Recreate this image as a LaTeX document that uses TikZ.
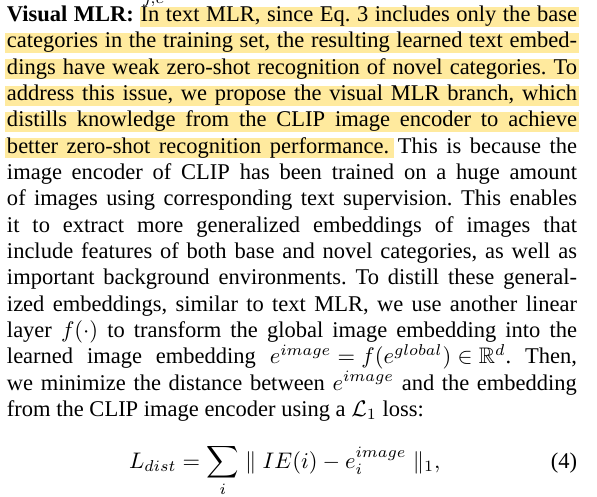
\documentclass[tikz,border=0pt]{standalone}
\usepackage{amssymb}
\usepackage{fontspec}
\setmainfont{Liberation Serif}
\definecolor{hl}{RGB}{255,234,158}
\newlength{\linew}
\setlength{\linew}{253.3pt}
\newcommand{\jline}[1]{\hbox to \linew{\frenchspacing\thickmuskip=5mu\medmuskip=4mu #1}}
\begin{document}
\begin{tikzpicture}[x=0.4444pt,y=-0.4444pt,
  txtline/.style={anchor=base west, inner sep=0pt, outer sep=0pt, font=\fontsize{10pt}{11.7pt}\selectfont},
  band/.style={fill=hl}]
\useasboundingbox (0,0) rectangle (597,496);
\clip (0,0) rectangle (597,496);
\fill[white] (0,0) rectangle (597,496);
% highlight bands
\fill[band] (140,6.5) rectangle (579,26.5);
\fill[band] (5,32.8) rectangle (579,52.8);
\fill[band] (5,59.2) rectangle (579,79.2);
\fill[band] (5,85.5) rectangle (579,105.5);
\fill[band] (5,111.8) rectangle (579,131.8);
\fill[band] (5,138.2) rectangle (394,158.2);
% cut-off subscript from the line above
\node[txtline] (frag) at (143,3) {$\scriptstyle j,c$};
% text lines
\node[txtline] (l1) at (7,21.5) {\jline{\textbf{Visual MLR:} In text MLR, since Eq. 3 includes only the base}};
\node[txtline] (l2) at (7,47.83) {\jline{categories in the training set, the resulting learned text embed-}};
\node[txtline] (l3) at (7,74.16) {\jline{dings have weak zero-shot recognition of novel categories. To}};
\node[txtline] (l4) at (7,100.49) {\jline{address this issue, we propose the visual MLR branch, which}};
\node[txtline] (l5) at (7,126.82) {\jline{distills knowledge from the CLIP image encoder to achieve}};
\node[txtline] (l6) at (7,153.15) {\jline{better zero-shot recognition performance. This is because the}};
\node[txtline] (l7) at (7,179.48) {\jline{image encoder of CLIP has been trained on a huge amount}};
\node[txtline] (l8) at (7,205.81) {\jline{of images using corresponding text supervision. This enables}};
\node[txtline] (l9) at (7,232.14) {\jline{it to extract more generalized embeddings of images that}};
\node[txtline] (l10) at (7,258.47) {\jline{include features of both base and novel categories, as well as}};
\node[txtline] (l11) at (7,284.8) {\jline{important background environments. To distill these general-}};
\node[txtline] (l12) at (7,311.13) {\jline{ized embeddings, similar to text MLR, we use another linear}};
\node[txtline] (l13) at (7,337.46) {\jline{layer $f(\cdot)$ to transform the global image embedding into the}};
\node[txtline] (l14) at (7,363.79) {\jline{learned image embedding $e^{image} = f(e^{global}) \in \mathbb{R}^d$. Then,}};
\node[txtline] (l15) at (7,390.12) {\jline{we minimize the distance between $e^{image}$ and the embedding}};
\node[txtline] (l16) at (7,416.45) {\jline{from the CLIP image encoder using a $\mathcal{L}_1$ loss:\hfill}};
% equation
\node[txtline] (eq) at (129,468) {$\displaystyle L_{dist} = \sum_i \parallel IE(i) - e_i^{image} \parallel_1,$};
\node[txtline, anchor=base east] (eqno) at (577,468) {(4)};
\end{tikzpicture}
\end{document}
